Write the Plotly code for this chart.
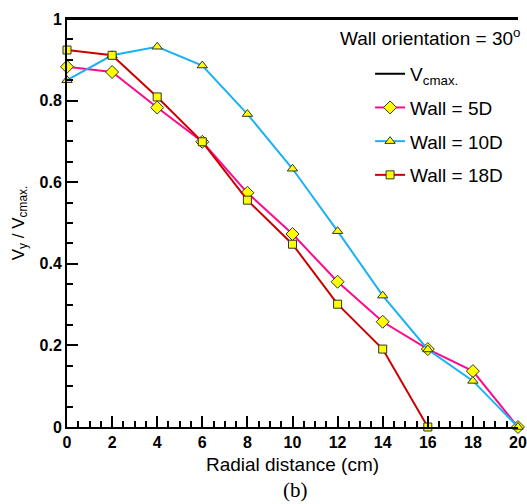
import plotly.graph_objects as go

radial = [0, 2, 4, 6, 8, 10, 12, 14, 16, 18, 20]
wall_5d = [0.883, 0.870, 0.783, 0.699, 0.574, 0.473, 0.356, 0.258, 0.191, 0.137, 0.0]
wall_10d = [0.850, 0.911, 0.932, 0.886, 0.767, 0.633, 0.480, 0.322, 0.190, 0.113, 0.0]
radial_18d = [0, 2, 4, 6, 8, 10, 12, 14, 16]
wall_18d = [0.924, 0.911, 0.809, 0.699, 0.556, 0.448, 0.301, 0.191, 0.0]
vcmax_x = [0, 20]
vcmax_y = [1, 1]

x_ticks = list(range(0, 21, 2))
y_ticks = [0, 0.2, 0.4, 0.6, 0.8, 1]
y_ticklabels = ["0", "0.2", "0.4", "0.6", "0.8", "1"]

fig = go.Figure()
fig.add_trace(go.Scatter(
    x=vcmax_x, y=vcmax_y, mode="lines", name="V<sub>cmax.</sub>",
    line=dict(color="black", width=2), legendgroup="a", cliponaxis=False))
fig.add_trace(go.Scatter(
    x=radial, y=wall_5d, mode="lines+markers", name="Wall = 5D",
    line=dict(color="#FF0A8C", width=2), legendgroup="b", cliponaxis=False,
    marker=dict(symbol="diamond", size=10, color="#FFFF00",
                line=dict(color="#333333", width=1))))
fig.add_trace(go.Scatter(
    x=radial, y=wall_10d, mode="lines+markers", name="Wall = 10D",
    line=dict(color="#1AB2F0", width=2), legendgroup="c", cliponaxis=False,
    marker=dict(symbol="triangle-up", size=9, color="#FFFF00",
                line=dict(color="#333333", width=1))))
fig.add_trace(go.Scatter(
    x=radial_18d, y=wall_18d, mode="lines+markers", name="Wall = 18D",
    line=dict(color="#CC0000", width=2), legendgroup="d", cliponaxis=False,
    marker=dict(symbol="square", size=8, color="#FFFF00",
                line=dict(color="#333333", width=1))))

fig.update_layout(
    width=527, height=504,
    margin=dict(l=67, r=9, t=19, b=77),
    paper_bgcolor="white", plot_bgcolor="white",
    font=dict(family="Liberation Sans, Arial", color="black"),
    legend=dict(x=0.672, y=0.912, xanchor="left", yanchor="top",
                font=dict(size=19), tracegroupgap=6,
                bgcolor="rgba(0,0,0,0)"),
    annotations=[
        dict(text="Wall orientation = 30<sup>o</sup>", x=1.0, y=0.955,
             xref="paper", yref="paper", xanchor="right", yanchor="middle",
             xshift=4, showarrow=False, font=dict(size=19)),
        dict(text="(b)", x=267/527, y=-0.155, xref="paper", yref="paper",
             xanchor="center", yanchor="middle", showarrow=False,
             font=dict(size=21, family="Liberation Serif, Times New Roman")),
    ],
)
fig.update_xaxes(
    range=[0, 20], tickvals=x_ticks, ticks="inside", ticklen=11, tickwidth=2,
    tickcolor="black", showline=True, linecolor="black", linewidth=2,
    mirror=True, automargin=False, layer="above traces",
    showgrid=False, zeroline=False,
    tickfont=dict(size=16, weight="bold"),
    minor=dict(dtick=0.5, ticks="inside", ticklen=6, tickwidth=1.5, tickcolor="black"),
    title=dict(text="Radial distance (cm)", font=dict(size=19), standoff=7),
)
fig.update_yaxes(
    range=[0, 1], tickvals=y_ticks, ticktext=y_ticklabels, ticks="inside",
    ticklen=11, tickwidth=2, tickcolor="black", showline=True,
    linecolor="black", linewidth=2, showgrid=False, zeroline=False,
    automargin=False,
    tickfont=dict(size=16, weight="bold"),
    minor=dict(dtick=0.05, ticks="inside", ticklen=6, tickwidth=1.5, tickcolor="black"),
    title=dict(text="V<sub>y</sub> / V<sub>cmax.</sub>", font=dict(size=17), standoff=11),
)

fig.write_html("out.html")
